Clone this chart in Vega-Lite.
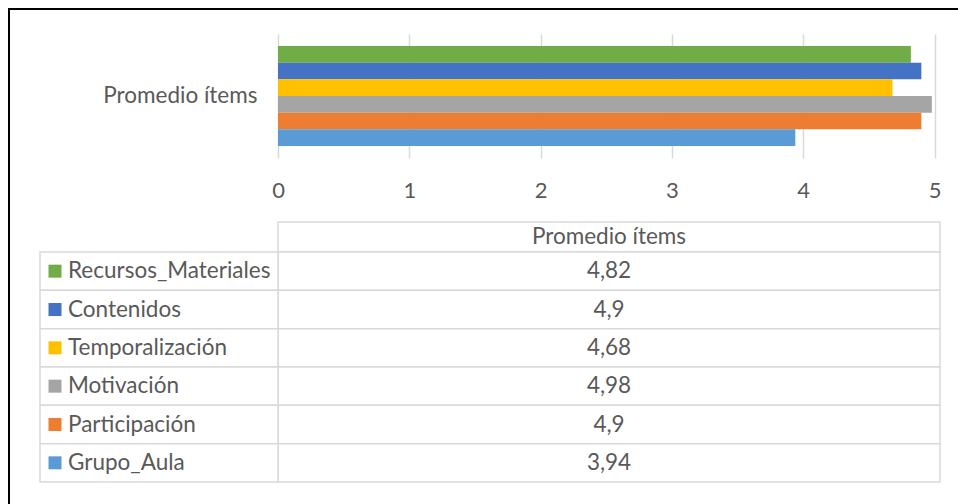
{
  "$schema": "https://vega.github.io/schema/vega-lite/v6.json",
  "autosize": "none",
  "width": 949,
  "height": 495,
  "padding": {"left": 9, "top": 9, "right": 0, "bottom": 0},
  "background": "white",
  "view": {"stroke": "#000000", "strokeWidth": 2, "strokeDash": [949, 1444, 495], "fill": "white"},
  "config": {
    "font": "Lato",
    "locale": {"number": {"decimal": ",", "thousands": ".", "grouping": [3], "currency": ["", " €"]}}
  },
  "data": {
    "values": [
      {"serie": "Recursos_Materiales", "grupo": "Promedio ítems", "valor": 4.82},
      {"serie": "Contenidos", "grupo": "Promedio ítems", "valor": 4.9},
      {"serie": "Temporalización", "grupo": "Promedio ítems", "valor": 4.68},
      {"serie": "Motivación", "grupo": "Promedio ítems", "valor": 4.98},
      {"serie": "Participación", "grupo": "Promedio ítems", "valor": 4.9},
      {"serie": "Grupo_Aula", "grupo": "Promedio ítems", "valor": 3.94}
    ]
  },
  "resolve": {
    "scale": {"x": "independent", "y": "independent", "yOffset": "independent", "color": "shared"},
    "axis": {"x": "independent", "y": "independent"}
  },
  "layer": [
    {
      "mark": {"type": "bar"},
      "encoding": {
        "x": {
          "field": "valor", "type": "quantitative",
          "scale": {"domain": [0, 5], "range": [269, 925.5], "nice": false, "zero": true},
          "axis": {
            "orient": "top", "offset": -190, "values": [0, 1, 2, 3, 4, 5], "format": "d",
            "grid": true, "gridColor": "#d9d9d9", "gridWidth": 1.5,
            "domain": false, "ticks": false, "labelFlush": false,
            "labelPadding": 2, "labelBaseline": "alphabetic",
            "labelFontSize": 22, "labelColor": "#595959", "labelFont": "Lato", "title": null
          }
        },
        "y": {
          "field": "grupo", "type": "nominal",
          "scale": {"range": [25, 149], "paddingInner": 0, "paddingOuter": 0.12},
          "axis": {
            "orient": "left", "offset": -269, "domain": false, "ticks": false, "grid": false,
            "labelPadding": 21, "labelFontSize": 22.5, "labelColor": "#595959", "labelFont": "Lato", "title": null
          }
        },
        "yOffset": {
          "field": "serie", "type": "nominal",
          "sort": ["Recursos_Materiales", "Contenidos", "Temporalización", "Motivación", "Participación", "Grupo_Aula"],
          "scale": {"paddingInner": 0, "paddingOuter": 0}
        },
        "color": {
          "field": "serie", "type": "nominal",
          "scale": {
            "domain": ["Recursos_Materiales", "Contenidos", "Temporalización", "Motivación", "Participación", "Grupo_Aula"],
            "range": ["#70AD47", "#4472C4", "#FFC000", "#A5A5A5", "#ED7D31", "#5B9BD5"]
          },
          "legend": null
        }
      }
    },
    {
      "transform": [{"aggregate": [{"op": "count", "as": "n"}], "groupby": ["grupo"]}],
      "mark": {"type": "rect", "fill": "white", "stroke": "#d9d9d9", "strokeWidth": 1.5},
      "encoding": {
        "x": {"field": "grupo", "type": "nominal", "scale": {"range": [269, 931], "paddingInner": 0, "paddingOuter": 0}, "axis": null},
        "y": {"field": "grupo", "type": "nominal", "scale": {"range": [213, 243], "paddingInner": 0, "paddingOuter": 0}, "axis": null}
      }
    },
    {
      "transform": [{"aggregate": [{"op": "count", "as": "n"}], "groupby": ["grupo"]}],
      "mark": {"type": "text", "font": "Lato", "fontSize": 22.5, "fill": "#595959", "baseline": "middle", "align": "center"},
      "encoding": {
        "x": {"field": "grupo", "type": "nominal", "scale": {"range": [269, 931], "paddingInner": 0, "paddingOuter": 0}, "axis": null},
        "y": {"field": "grupo", "type": "nominal", "scale": {"range": [213, 243], "paddingInner": 0, "paddingOuter": 0}, "axis": null},
        "text": {"field": "grupo", "type": "nominal"}
      }
    },
    {
      "mark": {"type": "rect", "fill": "white", "stroke": "#d9d9d9", "strokeWidth": 1.5},
      "encoding": {
        "x": {"field": "grupo", "type": "nominal", "scale": {"range": [269, 931], "paddingInner": 0, "paddingOuter": 0}, "axis": null},
        "y": {
          "field": "serie", "type": "nominal",
          "sort": ["Recursos_Materiales", "Contenidos", "Temporalización", "Motivación", "Participación", "Grupo_Aula"],
          "scale": {"range": [243, 473], "paddingInner": 0, "paddingOuter": 0}, "axis": null
        }
      }
    },
    {
      "mark": {"type": "rect", "fill": "white", "stroke": "#d9d9d9", "strokeWidth": 1.5},
      "encoding": {
        "x": {"field": "grupo", "type": "nominal", "scale": {"range": [31, 269], "paddingInner": 0, "paddingOuter": 0}, "axis": null},
        "y": {
          "field": "serie", "type": "nominal",
          "sort": ["Recursos_Materiales", "Contenidos", "Temporalización", "Motivación", "Participación", "Grupo_Aula"],
          "scale": {"range": [243, 473], "paddingInner": 0, "paddingOuter": 0}, "axis": null
        }
      }
    },
    {
      "mark": {"type": "text", "font": "Lato", "fontSize": 22.5, "fill": "#595959", "baseline": "middle", "align": "center"},
      "encoding": {
        "x": {"field": "grupo", "type": "nominal", "scale": {"range": [269, 931], "paddingInner": 0, "paddingOuter": 0}, "axis": null},
        "y": {
          "field": "serie", "type": "nominal",
          "sort": ["Recursos_Materiales", "Contenidos", "Temporalización", "Motivación", "Participación", "Grupo_Aula"],
          "scale": {"range": [243, 473], "paddingInner": 0, "paddingOuter": 0}, "axis": null
        },
        "text": {"field": "valor", "type": "quantitative", "format": ".2~f"}
      }
    },
    {
      "mark": {"type": "square", "size": 169, "filled": true, "opacity": 1, "xOffset": -104},
      "encoding": {
        "x": {"field": "grupo", "type": "nominal", "scale": {"range": [31, 269], "paddingInner": 0, "paddingOuter": 0}, "axis": null},
        "y": {
          "field": "serie", "type": "nominal",
          "sort": ["Recursos_Materiales", "Contenidos", "Temporalización", "Motivación", "Participación", "Grupo_Aula"],
          "scale": {"range": [243, 473], "paddingInner": 0, "paddingOuter": 0}, "axis": null
        },
        "color": {"field": "serie", "type": "nominal", "legend": null}
      }
    },
    {
      "mark": {"type": "text", "font": "Lato", "fontSize": 22.5, "fill": "#595959", "baseline": "middle", "align": "left", "xOffset": -91},
      "encoding": {
        "x": {"field": "grupo", "type": "nominal", "scale": {"range": [31, 269], "paddingInner": 0, "paddingOuter": 0}, "axis": null},
        "y": {
          "field": "serie", "type": "nominal",
          "sort": ["Recursos_Materiales", "Contenidos", "Temporalización", "Motivación", "Participación", "Grupo_Aula"],
          "scale": {"range": [243, 473], "paddingInner": 0, "paddingOuter": 0}, "axis": null
        },
        "text": {"field": "serie", "type": "nominal"}
      }
    }
  ]
}
